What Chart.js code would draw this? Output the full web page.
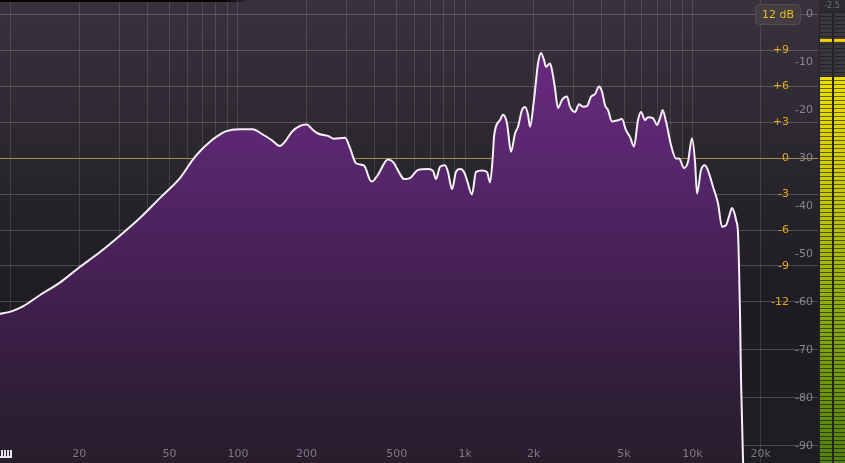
<!DOCTYPE html>
<html><head><meta charset="utf-8">
<script src="https://cdn.jsdelivr.net/npm/chart.js@4.4.1/dist/chart.umd.min.js"></script>
<style>html,body{margin:0;padding:0;background:#1e1c21;overflow:hidden}canvas{display:block}</style>
</head><body>
<canvas id="c" width="845" height="463"></canvas>
<script>
// ---- data (frequency in Hz, analyzer level in dB) ----
const freqs = [8.9,10,11.3,13.4,16.5,20,24.7,30,37,45.4,
  55.5,63.4,68,75.3,80.8,87.6,102,116,127.5,141,
  153,161,173,187.5,201,212,225,249,265,296,
  311,331,359,381,389,413,457,481,516,538,
  571,620,686,722,744,775,815,840,875,911,
  949,988,1018,1071,1116,1186,1247,1286,1326,1339,
  1423,1467,1528,1591,1657,1708,1778,1833,1890,1929,
  2008,2092,2156,2223,2268,2362,2410,2485,2561,2667,
  2805,2892,3042,3169,3300,3436,3579,3727,3881,4001,
  4124,4252,4428,4658,4898,5101,5312,5534,5762,5940,
  6186,6376,6707,6986,7275,7386,7654,8050,8468,8730,
  9184,9564,9959,10270,10480,10910,11360,11830,12320,12960,
  13500,14060,14490,14940,15400,15560,15880,16040,16200,16370,
  16700,17000];
const levels = [-62.5,-62.0,-60.9,-58.6,-55.9,-52.8,-49.6,-46.3,-42.5,-38.3,
  -34.2,-30.3,-28.6,-26.6,-25.5,-24.5,-24.0,-24.0,-25.0,-26.3,
  -27.5,-26.6,-24.5,-23.3,-23.0,-24.0,-24.9,-25.4,-26.0,-25.8,
  -27.9,-31.1,-31.6,-34.6,-34.9,-33.5,-30.3,-30.8,-33.3,-34.4,
  -34.2,-32.5,-32.3,-32.7,-34.4,-31.8,-31.5,-32.9,-36.5,-32.9,
  -32.3,-32.9,-34.6,-37.6,-32.9,-32.6,-32.9,-35.1,-29.0,-25.6,
  -22.1,-21.0,-22.8,-28.7,-24.9,-23.5,-20.0,-19.4,-21.0,-23.5,
  -17.9,-10.3,-8.1,-9.6,-11.0,-10.3,-11.7,-15.5,-19.6,-17.9,
  -17.2,-19.3,-20.4,-18.8,-19.3,-19.2,-17.2,-16.7,-15.1,-16.2,
  -19.0,-20.0,-22.4,-22.2,-21.9,-24.2,-25.6,-27.6,-22.1,-20.4,
  -22.1,-21.5,-21.7,-23.1,-21.0,-20.0,-22.4,-27.3,-30.1,-30.1,
  -32.1,-30.8,-25.9,-30.8,-37.4,-32.5,-31.5,-33.2,-36.0,-39.4,
  -44.3,-44.0,-42.2,-40.4,-41.9,-42.9,-45.7,-52.6,-62.3,-76.3,
  -92.9,-100];

// ---- tick labels / grids ----
const freqTicks  = [20,50,100,200,500,1000,2000,5000,10000,20000];
const freqLabels = ['20','50','100','200','500','1k','2k','5k','10k','20k'];
const freqGrid   = [10,20,30,40,50,60,70,80,90,100,200,300,400,500,600,700,800,900,
                    1000,2000,3000,4000,5000,6000,7000,8000,9000,10000,20000];
const specTicks  = [0,-10,-20,-30,-40,-50,-60,-70,-80,-90];
const specLabels = ['0','-10','-20','-30','-40','-50','-60','-70','-80','-90'];
const eqTicks    = [9,6,3,0,-3,-6,-9,-12];
const eqLabels   = ['+9','+6','+3','0','-3','-6','-9','-12'];
const eqGrid     = [12,9,6,3,0,-3,-6,-9,-12];
const specGridLow = [-70,-80,-90];
const rangeLabel = '12 dB';
const meterTopLabel = '-2.5';
const meterLevel = -12.7;
const meterPeak = -5.4;

const EQ_SCALE = 2.5;      // analyzer dB per EQ dB
const EQ_ZERO = -30;       // analyzer dB where EQ 0 dB sits
const eqToSpec = v => EQ_ZERO + v * EQ_SCALE;
const gridVals = eqGrid.map(eqToSpec).concat(specGridLow);

const FONT = '"DejaVu Sans", sans-serif';

const decor = {
  id: 'decor',
  beforeDraw(chart) {
    const {ctx, width, height} = chart;
    const g = ctx.createLinearGradient(0, 0, 0, height);
    g.addColorStop(0, '#39323e');
    g.addColorStop(0.35, '#2a262e');
    g.addColorStop(0.65, '#1e1b21');
    g.addColorStop(1, '#1f1d22');
    ctx.save();
    ctx.fillStyle = g;
    ctx.fillRect(0, 0, width, height);
    ctx.restore();
  },
  afterDraw(chart) {
    const {ctx} = chart;
    const xs = chart.scales.x, ys = chart.scales.y;
    ctx.save();
    // top shadow strip
    const sg = ctx.createLinearGradient(0, 0, 250, 0);
    sg.addColorStop(0, 'rgba(0,0,0,0.95)');
    sg.addColorStop(0.9, 'rgba(0,0,0,0.9)');
    sg.addColorStop(1, 'rgba(0,0,0,0)');
    ctx.fillStyle = sg;
    ctx.fillRect(0, 0, 252, 2);

    ctx.font = '11px ' + FONT;
    ctx.textBaseline = 'middle';
    // analyzer labels
    ctx.textAlign = 'right';
    ctx.fillStyle = '#8b8691';
    specTicks.forEach((v, i) => {
      ctx.fillText(specLabels[i], 813, ys.getPixelForValue(v) + 0.5);
    });
    // EQ labels
    ctx.fillStyle = '#e0ab1c';
    eqTicks.forEach((v, i) => {
      ctx.fillText(eqLabels[i], 789, ys.getPixelForValue(eqToSpec(v)) + 0.5);
    });
    // frequency labels
    ctx.textAlign = 'center';
    ctx.fillStyle = '#7f7987';
    freqTicks.forEach((f, i) => {
      ctx.fillText(freqLabels[i], xs.getPixelForValue(f), 454);
    });

    // range button
    ctx.beginPath();
    ctx.roundRect(755.5, 4.5, 45, 20, 4);
    ctx.fillStyle = '#443d41';
    ctx.fill();
    ctx.strokeStyle = '#544c4f';
    ctx.lineWidth = 1;
    ctx.stroke();
    ctx.fillStyle = '#ebbb2a';
    ctx.fillText(rangeLabel, 778, 15);

    // piano icon bottom-left
    ctx.fillStyle = '#e8e4ec';
    [1, 4, 7, 10].forEach(x => ctx.fillRect(x, 450, 2, 8));
    ctx.fillRect(0, 456, 12, 2);

    // level meter
    const mx0 = 819, W = 845 - mx0;
    ctx.fillStyle = '#252327';
    ctx.fillRect(mx0, 0, W, 463);
    ctx.fillStyle = '#2d2b2f';
    ctx.fillRect(mx0, 0, W, 12);
    ctx.font = '8px ' + FONT;
    ctx.fillStyle = '#7a7580';
    ctx.textAlign = 'center';
    ctx.fillText(meterTopLabel, 832, 6);
    const levelPx = ys.getPixelForValue(meterLevel);
    const peakPx = ys.getPixelForValue(meterPeak);
    const stops = [[0,[238,222,0]],[0.3,[200,200,8]],[0.6,[140,172,14]],[1,[82,128,14]]];
    const col = (py) => {
      const t = Math.max(0, Math.min(1, (py - levelPx) / (463 - levelPx)));
      for (let i = 1; i < stops.length; i++) {
        if (t <= stops[i][0]) {
          const a = stops[i-1], b = stops[i];
          const u = (t - a[0]) / (b[0] - a[0]);
          return a[1].map((c, k) => Math.round(c + (b[1][k] - c) * u));
        }
      }
      return stops[stops.length-1][1];
    };
    for (let py = 13; py < 463; py += 4) {
      if (py >= levelPx - 1) {
        const c = col(py);
        ctx.fillStyle = `rgb(${c.map(v => Math.round(v*0.45)).join(',')})`;
        ctx.fillRect(820, py, 12, 4); ctx.fillRect(834, py, 11, 4);
        ctx.fillStyle = `rgb(${c.join(',')})`;
      } else {
        ctx.fillStyle = '#3a383c';
      }
      ctx.fillRect(820, py, 12, 3);
      ctx.fillRect(834, py, 11, 3);
    }
    ctx.fillStyle = '#f2d200';
    ctx.fillRect(820, peakPx - 1, 12, 3);
    ctx.fillRect(834, peakPx - 1, 11, 3);
    ctx.restore();
  }
};

const points = freqs.map((f, i) => ({x: f, y: levels[i]}));

new Chart(document.getElementById('c'), {
  type: 'line',
  data: {
    datasets: [{
      data: points,
      borderColor: '#f6f1f7',
      borderWidth: 2,
      pointRadius: 0,
      cubicInterpolationMode: 'monotone',
      fill: 'start',
      backgroundColor: (c) => {
        const {chart} = c;
        const ca = chart.chartArea;
        if (!ca) return 'rgba(90,38,110,1)';
        const g = chart.ctx.createLinearGradient(0, 50, 0, 463);
        g.addColorStop(0, 'rgb(106,42,128)');
        g.addColorStop(0.27, 'rgb(88,38,109)');
        g.addColorStop(0.6, 'rgb(65,31,79)');
        g.addColorStop(0.84, 'rgb(47,30,55)');
        g.addColorStop(1, 'rgb(40,29,45)');
        return g;
      }
    }]
  },
  options: {
    responsive: false,
    animation: false,
    devicePixelRatio: 1,
    layout: {padding: {left: 0, right: 27, top: 0, bottom: 0}},
    plugins: {legend: {display: false}, tooltip: {enabled: false}},
    scales: {
      x: {
        type: 'logarithmic',
        min: 8.965, max: 35710,
        z: 1,
        border: {display: false},
        ticks: {display: false},
        grid: {drawTicks: false, color: 'rgba(255,255,255,0.12)', lineWidth: 1},
        afterBuildTicks: (s) => { s.ticks = freqGrid.map(v => ({value: v})); }
      },
      y: {
        type: 'linear',
        position: 'right',
        min: -93.5417, max: 2.9167,
        z: 1,
        border: {display: false},
        ticks: {display: false},
        grid: {
          drawTicks: false,
          lineWidth: 1,
          color: (c) => c.tick && Math.abs(c.tick.value - EQ_ZERO) < 0.01 ? 'rgba(176,142,78,0.95)' : 'rgba(255,255,255,0.2)'
        },
        afterBuildTicks: (s) => { s.ticks = gridVals.map(v => ({value: v})); }
      }
    }
  },
  plugins: [decor]
});
</script>
</body></html>
